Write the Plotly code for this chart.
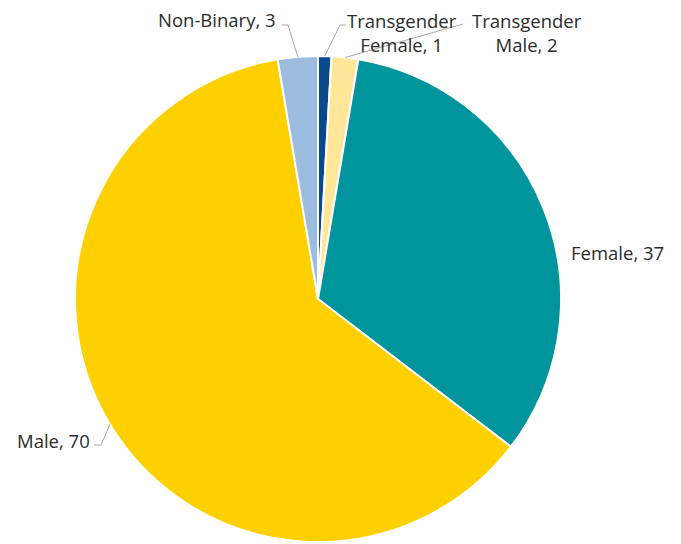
import math
import plotly.graph_objects as go

# ---- data ----
labels = ["Transgender Female", "Transgender Male", "Female", "Male", "Non-Binary"]
values = [1, 2, 37, 70, 3]
label_text = ["Transgender<br>Female, 1", "Transgender<br>Male, 2", "Female, 37", "Male, 70", "Non-Binary, 3"]
colors = ["#0B4A8A", "#FFE699", "#00959C", "#FFD000", "#9DBDE0"]

# ---- layout geometry (pixels) ----
W, H = 681, 544
cx, cy, r = 318, 299, 243

def px(x):
    return x / W

def py(y):
    return (H - y) / H

fig = go.Figure(go.Pie(
    labels=labels,
    values=values,
    sort=False,
    direction="clockwise",
    rotation=0,
    marker=dict(colors=colors, line=dict(color="white", width=2)),
    textinfo="none",
    hoverinfo="label+value",
    domain=dict(x=[px(cx - r), px(cx + r)], y=[py(cy + r), py(cy - r)]),
    showlegend=False,
))

# label placement (styling): (x, y, xanchor, elbow points after slice edge)
placement = [
    dict(x=402, y=32, xanchor="center", path=[(340, 25), (346, 25)]),
    dict(x=527, y=32, xanchor="center", path=[(463, 24)]),
    dict(x=569, y=252, xanchor="left", path=None),
    dict(x=92, y=440, xanchor="right", path=[(101, 445), (94, 445)]),
    dict(x=278, y=20, xanchor="right", path=[(288, 25), (282, 25)]),
]

total = sum(values)
cum = 0
shapes = []
annotations = []
for v, txt, pl in zip(values, label_text, placement):
    mid = (cum + v / 2) / total * 2 * math.pi
    cum += v
    ex = cx + r * math.sin(mid)
    ey = cy - r * math.cos(mid)
    annotations.append(dict(
        x=px(pl["x"]), y=py(pl["y"]), xref="paper", yref="paper",
        text=txt, showarrow=False, xanchor=pl["xanchor"], yanchor="middle",
        align="center",
        font=dict(family="'Open Sans', sans-serif", size=18.5, color="#2b2b2b"),
    ))
    if pl["path"]:
        pts = [(ex, ey)] + pl["path"]
        d = "M " + " L ".join(f"{px(a)},{py(b)}" for a, b in pts)
        shapes.append(dict(type="path", path=d, xref="paper", yref="paper",
                           line=dict(color="#A6A6A6", width=1)))

fig.update_layout(
    width=W, height=H,
    margin=dict(l=0, r=0, t=0, b=0),
    paper_bgcolor="white",
    plot_bgcolor="white",
    annotations=annotations,
    shapes=shapes,
)

fig.write_html("out.html", config={"displayModeBar": False},
               post_script="document.body.style.margin='0';")
